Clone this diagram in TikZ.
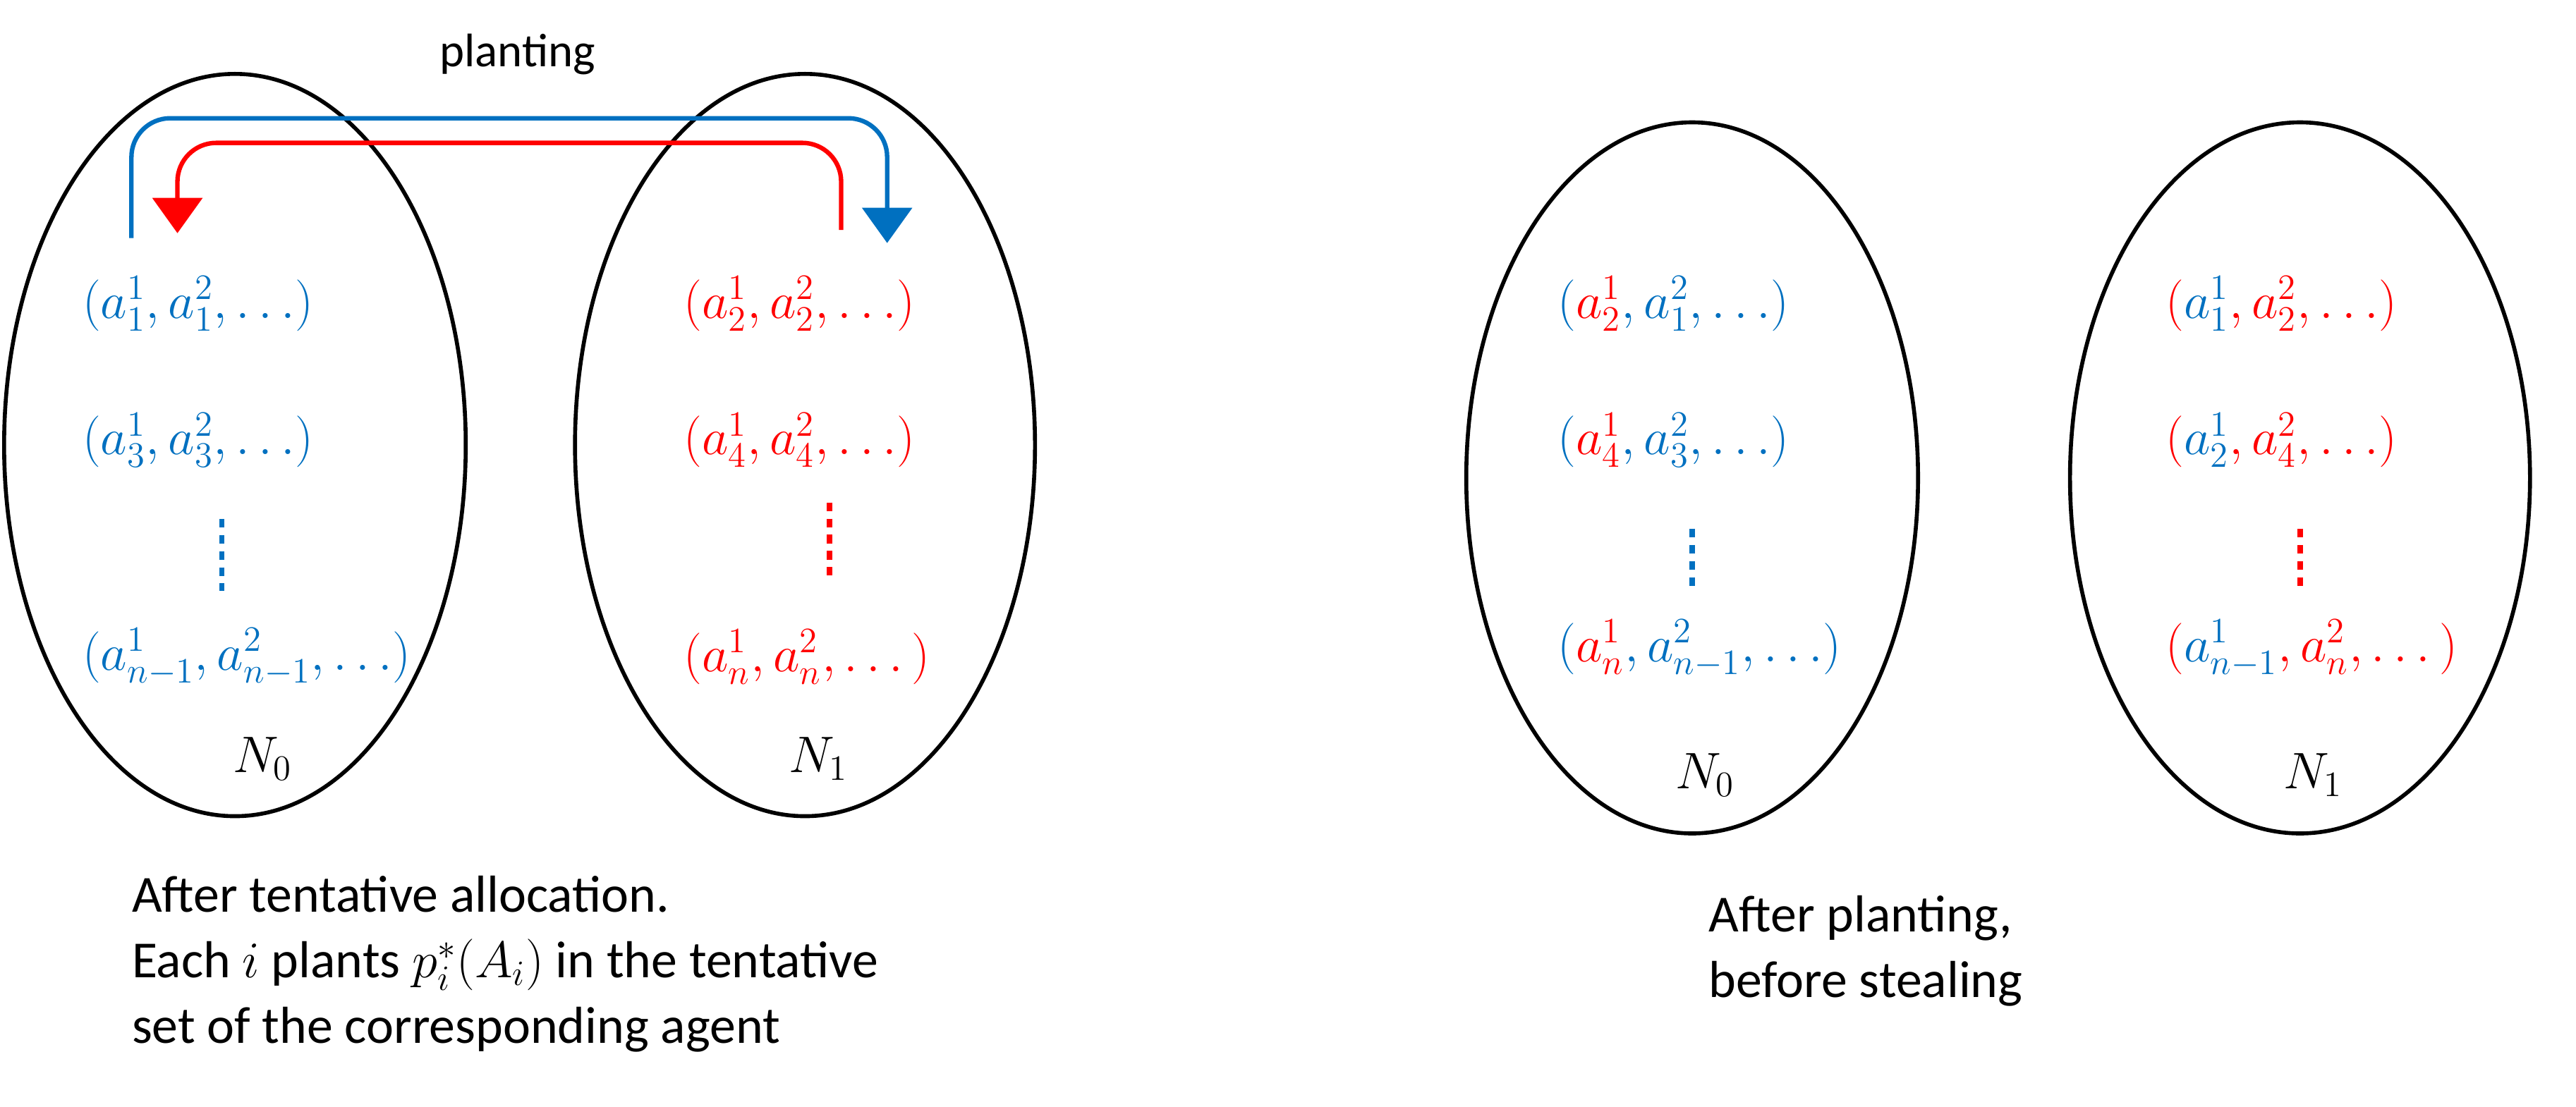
\documentclass[tikz,border=0pt]{standalone}
\usepackage{fontspec}
\setmainfont{Carlito}
\usetikzlibrary{shapes.geometric,arrows.meta,positioning}
\definecolor{cblue}{HTML}{0070C0}
\definecolor{cred}{HTML}{FF0000}
\newcommand{\blu}[1]{\textcolor{cblue}{#1}}
\newcommand{\redd}[1]{\textcolor{cred}{#1}}

\begin{document}
\begin{tikzpicture}[
  x=0.02329cm, y=-0.02329cm,
  >=Triangle,
  agentset/.style={draw, ellipse, line width=1.6pt, inner sep=0pt},
  tuple/.style={anchor=west, font=\fontsize{22}{26}\selectfont, inner sep=0pt},
  lbl/.style={font=\fontsize{20}{24}\selectfont, inner sep=0pt},
  caption/.style={anchor=north west, align=left, font=\fontsize{21}{26.5}\selectfont, inner sep=0pt},
  vdots/.style={line width=2.2pt, dash pattern=on 3.5pt off 3pt},
  plant/.style={line width=1.8pt, rounded corners=0.55cm, -{Triangle[width=0.7cm,length=0.5cm]}}
]
  \useasboundingbox (0,0) rectangle (1568,674);

  % left pair: after tentative allocation
  \node[agentset, minimum width=0.02329cm*281, minimum height=0.02329cm*452] (e0) at (143,271) {};
  \node[agentset, minimum width=0.02329cm*280, minimum height=0.02329cm*452] (e1) at (490,271) {};

  \node[tuple, cblue] (t01) at (50,185) {$(a_1^1, a_1^2, \ldots)$};
  \node[tuple, cblue] (t02) at (50,268) {$(a_3^1, a_3^2, \ldots)$};
  \node[tuple, cblue] (t03) at (50,400) {$(a_{n-1}^1, a_{n-1}^2, \ldots)$};
  \draw[vdots, cblue] (135,316) -- (135,360);

  \node[tuple, cred] (t11) at (416,185) {$(a_2^1, a_2^2, \ldots)$};
  \node[tuple, cred] (t12) at (416,268) {$(a_4^1, a_4^2, \ldots)$};
  \node[tuple, cred] (t13) at (416,400) {$(a_n^1, a_n^2, \ldots\,)$};
  \draw[vdots, cred] (505,306) -- (505,355);

  \node[lbl] (n0) at (160,462) {$N_0$};
  \node[lbl] (n1) at (498,462) {$N_1$};

  % planting arrows
  \coordinate (bs) at (80,145);
  \coordinate (be) at (540,148);
  \coordinate (rs) at (512,140);
  \coordinate (re) at (108,142);
  \node[lbl, font=\fontsize{19}{22}\selectfont] (plant) at (315,33) {planting};
  \draw[plant, cblue] (bs) -- (80,72) -- (540,72) -- (be);
  \draw[plant, cred] (rs) -- (512,87) -- (108,87) -- (re);

  \node[caption] (cap0) at (80,533) {After tentative allocation.\\
    Each $i$ plants $p_i^*(A_i)$ in the tentative\\
    set of the corresponding agent};

  % right pair: after planting
  \node[agentset, minimum width=0.02329cm*275, minimum height=0.02329cm*433] (e2) at (1030,291) {};
  \node[agentset, minimum width=0.02329cm*280, minimum height=0.02329cm*433] (e3) at (1400,291) {};

  \node[tuple, cblue] (t21) at (948,185) {$(\redd{a_2^1}, a_1^2, \ldots)$};
  \node[tuple, cblue] (t22) at (948,268) {$(\redd{a_4^1}, a_3^2, \ldots)$};
  \node[tuple, cblue] (t23) at (948,395) {$(\redd{a_n^1}, a_{n-1}^2, \ldots)$};
  \draw[vdots, cblue] (1030,322) -- (1030,358);

  \node[tuple, cred] (t31) at (1318,185) {$(\blu{a_1^1}, a_2^2, \ldots)$};
  \node[tuple, cred] (t32) at (1318,268) {$(\blu{a_2^1}, a_4^2, \ldots)$};
  \node[tuple, cred] (t33) at (1318,395) {$(\blu{a_{n-1}^1}, a_n^2, \ldots\,)$};
  \draw[vdots, cred] (1400,322) -- (1400,358);

  \node[lbl] (n2) at (1038,472) {$N_0$};
  \node[lbl] (n3) at (1408,472) {$N_1$};

  \node[caption] (cap1) at (1040,545) {After planting,\\before stealing};
\end{tikzpicture}
\end{document}
